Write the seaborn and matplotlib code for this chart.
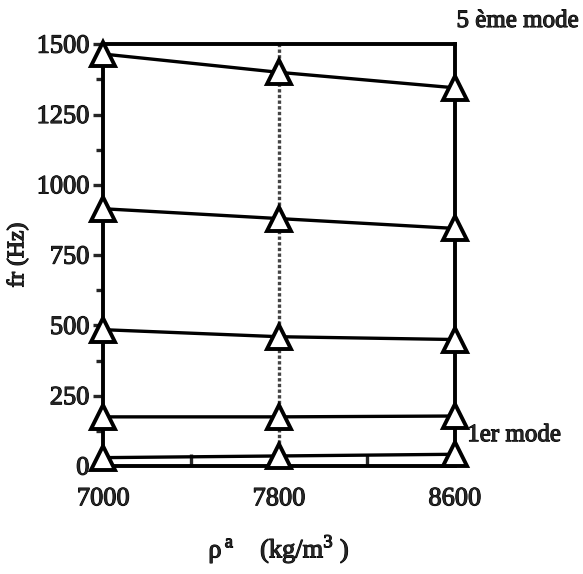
import matplotlib
matplotlib.use("Agg")
import matplotlib.pyplot as plt
import matplotlib.patheffects as pe
from matplotlib.ticker import MultipleLocator, FixedLocator
import numpy as np
import pandas as pd
import seaborn as sns

# Density of the material (kg/m^3)
density = [7000, 7800, 8600]
# Natural frequencies (Hz) of the first five modes
mode1 = [30, 36, 42]
mode2 = [175, 175, 178]
mode3 = [485, 460, 450]
mode4 = [915, 880, 845]
mode5 = [1465, 1400, 1345]
mode_names = ["mode 1", "mode 2", "mode 3", "mode 4", "mode 5"]
y_ticks = [0, 250, 500, 750, 1000, 1250, 1500]

df = pd.DataFrame({
    "rho": density * 5,
    "fr": mode1 + mode2 + mode3 + mode4 + mode5,
    "mode": [m for m in mode_names for _ in density],
})

sns.set_style("white")
plt.rcParams["font.family"] = ["Liberation Serif", "DejaVu Serif"]
plt.rcParams["mathtext.fontset"] = "custom"
plt.rcParams["mathtext.rm"] = "Liberation Serif"

# slightly heavier strokes for all text
heavy = [pe.withStroke(linewidth=0.8, foreground="black")]

fig = plt.figure(figsize=(5.83, 5.74), dpi=100)
ax = fig.add_axes([0.177, 0.188, 0.603, 0.735])

# dotted reference line at the middle density
ax.axvline(7800, color="#444444", lw=2.4, ls=(0, (1, 0.7)), zorder=1)

sns.lineplot(data=df, x="rho", y="fr", units="mode", estimator=None,
             color="black", lw=2.4, marker="^", markersize=17,
             markerfacecolor="white", markeredgecolor="black",
             markeredgewidth=2.8, ax=ax, legend=False, zorder=3)
for ln in ax.lines:
    ln.set_clip_on(False)

ax.set_xlim(7000, 8600)
ax.set_ylim(0, 1500)
ax.set_xticks(density)
ax.set_yticks(y_ticks)
ax.yaxis.set_minor_locator(MultipleLocator(125))
ax.xaxis.set_minor_locator(FixedLocator([7400, 8200]))

for s in ax.spines.values():
    s.set_linewidth(2.8)
    s.set_color("black")

ax.tick_params(axis="y", which="major", direction="out", length=7, width=2.4,
               labelsize=19, pad=3, left=True)
ax.tick_params(axis="y", which="minor", direction="out", length=5, width=2.4, left=True)
ax.tick_params(axis="x", which="major", direction="out", length=0, labelsize=19, pad=16)
ax.tick_params(axis="x", which="minor", direction="in", length=9, width=2.4, bottom=True)
for lab in ax.get_xticklabels() + ax.get_yticklabels():
    lab.set_path_effects(heavy)

ax.set_xlabel("ρ$^{\\,\\mathrm{a}}$    (kg/m$^{3}$ )", fontsize=19, labelpad=16,
              path_effects=heavy)
ax.set_ylabel("fr (Hz)", fontsize=17, labelpad=6, path_effects=heavy)

ax.text(1.005, 1.055, "5 ème mode", transform=ax.transAxes, fontsize=18,
        ha="left", va="center", path_effects=heavy)
ax.text(8600, 110, "  1er mode", fontsize=18, ha="left", va="center",
        path_effects=heavy)

fig.savefig("out.png", dpi=100)
